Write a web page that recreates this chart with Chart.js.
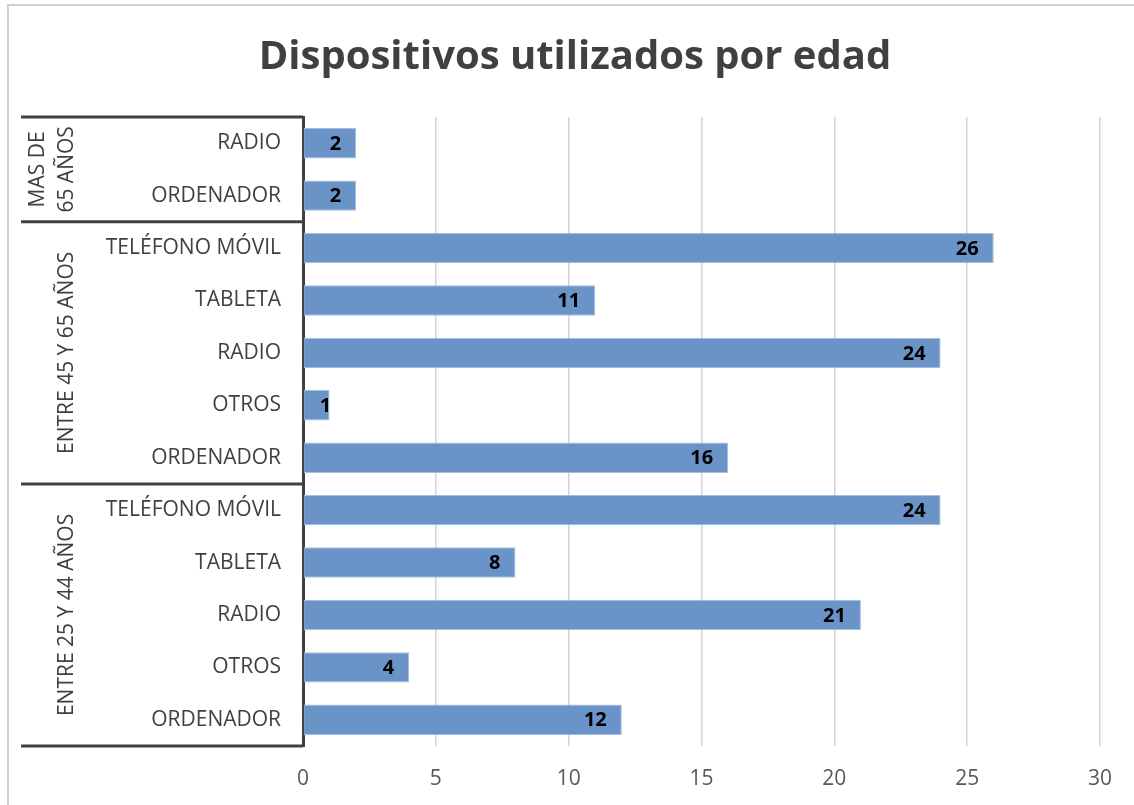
<!DOCTYPE html>
<html lang="es">
<head>
<meta charset="utf-8">
<title>Dispositivos utilizados por edad</title>
<script src="https://cdn.jsdelivr.net/npm/chart.js@4.4.1/dist/chart.umd.min.js"></script>
<style>
  html, body { margin: 0; padding: 0; background: #fff; }
  canvas { display: block; }
</style>
</head>
<body>
<canvas id="chart" width="1134" height="805"></canvas>
<script>
// ======== Data ========
const chartTitle = 'Dispositivos utilizados por edad';
const ageGroups = [['MAS DE', '65 AÑOS'], ['ENTRE 45 Y 65 AÑOS'], ['ENTRE 25 Y 44 AÑOS']];

const devicesMas65 = ['RADIO', 'ORDENADOR'];
const devices45a65 = ['TELÉFONO MÓVIL', 'TABLETA', 'RADIO', 'OTROS', 'ORDENADOR'];
const devices25a44 = ['TELÉFONO MÓVIL', 'TABLETA', 'RADIO', 'OTROS', 'ORDENADOR'];

const valuesMas65 = [2, 2];
const values45a65 = [26, 11, 24, 1, 16];
const values25a44 = [24, 8, 21, 4, 12];

const xMin = 0;
const xMax = 30;
const xStep = 5;

// ======== Derived ========
const groupDevices = [devicesMas65, devices45a65, devices25a44];
const labels = [].concat(devicesMas65, devices45a65, devices25a44);
const values = [].concat(valuesMas65, values45a65, values25a44);

const FONT = "'Open Sans', 'Noto Sans', sans-serif";
const AXIS_DARK = '#404040';

// ======== Plugins ========
// chart frame (only left and top edges are visible) + title
const framePlugin = {
  id: 'frame',
  beforeDraw(chart) {
    const ctx = chart.ctx;
    ctx.save();
    ctx.strokeStyle = '#cfcfcf';
    ctx.lineWidth = 2;
    ctx.beginPath();
    ctx.moveTo(8, chart.height);
    ctx.lineTo(8, 5);
    ctx.lineTo(chart.width, 5);
    ctx.stroke();

    ctx.fillStyle = AXIS_DARK;
    ctx.font = 'bold 40px ' + FONT;
    ctx.textAlign = 'center';
    ctx.textBaseline = 'middle';
    ctx.fillText(chartTitle, 575, 58);
    ctx.restore();
  }
};

// two-level category axis: group brackets and rotated group names
const groupAxisPlugin = {
  id: 'groupAxis',
  afterDraw(chart) {
    const ctx = chart.ctx;
    const y = chart.scales.y;
    const rowH = (y.bottom - y.top) / labels.length;
    const x0 = 21;
    const x1 = y.right;

    ctx.save();
    ctx.strokeStyle = AXIS_DARK;
    ctx.lineWidth = 3;

    let start = 0;
    const bounds = [0];
    groupDevices.forEach(g => { start += g.length; bounds.push(start); });

    bounds.forEach(b => {
      const py = y.top + b * rowH;
      ctx.beginPath();
      ctx.moveTo(x0, py);
      ctx.lineTo(x1, py);
      ctx.stroke();
    });

    // group names, rotated
    ctx.fillStyle = AXIS_DARK;
    ctx.font = '21px ' + FONT;
    ctx.textAlign = 'center';
    ctx.textBaseline = 'middle';
    for (let i = 0; i < ageGroups.length; i++) {
      const cy = y.top + (bounds[i] + bounds[i + 1]) / 2 * rowH;
      const lines = ageGroups[i];
      const lineH = 29;
      ctx.save();
      ctx.translate(67, cy);
      ctx.rotate(-Math.PI / 2);
      lines.forEach((t, k) => {
        const off = (k - (lines.length - 1)) * lineH;
        ctx.fillText(t, 0, off);
      });
      ctx.restore();
    }
    ctx.restore();
  }
};

// value labels at the inside end of each bar
const barLabelPlugin = {
  id: 'barLabels',
  afterDatasetsDraw(chart) {
    const ctx = chart.ctx;
    const meta = chart.getDatasetMeta(0);
    ctx.save();
    ctx.font = 'bold 20px ' + FONT;
    ctx.fillStyle = '#000';
    ctx.textAlign = 'right';
    ctx.textBaseline = 'middle';
    meta.data.forEach((bar, i) => {
      const txt = String(values[i]);
      const w = ctx.measureText(txt).width;
      const right = Math.max(bar.x - 15, bar.base + 16 + w);
      ctx.fillText(txt, right, bar.y + 1);
    });
    ctx.restore();
  }
};

// ======== Chart ========
new Chart(document.getElementById('chart').getContext('2d'), {
  type: 'bar',
  data: {
    labels: labels,
    datasets: [{
      data: values,
      backgroundColor: '#6a93c7',
      borderColor: '#a4bedf',
      borderWidth: 1,
      borderSkipped: false,
      barPercentage: 0.58,
      categoryPercentage: 1
    }]
  },
  options: {
    indexAxis: 'y',
    responsive: false,
    animation: false,
    devicePixelRatio: 1,
    layout: { padding: { left: 0, right: 34, top: 117, bottom: 0 } },
    plugins: {
      legend: { display: false },
      tooltip: { enabled: false },
      title: { display: false }
    },
    scales: {
      x: {
        min: xMin,
        max: xMax,
        ticks: {
          stepSize: xStep,
          color: '#595959',
          font: { family: FONT, size: 21 },
          padding: 20
        },
        grid: { color: '#d4d4d4', lineWidth: 1.5, drawTicks: false },
        border: { display: false },
        afterFit(scale) { scale.height = 59; }
      },
      y: {
        ticks: {
          color: AXIS_DARK,
          font: { family: FONT, size: 21 },
          padding: 22
        },
        grid: { display: false, drawTicks: false },
        border: { display: true, color: AXIS_DARK, width: 3 },
        afterFit(scale) { scale.width = 303; }
      }
    }
  },
  plugins: [framePlugin, groupAxisPlugin, barLabelPlugin]
});
</script>
</body>
</html>
